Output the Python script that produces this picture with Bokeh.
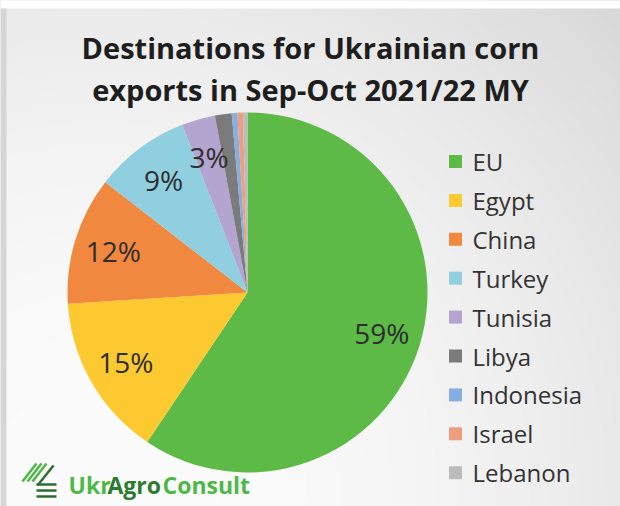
import math
import numpy as np
from bokeh.plotting import figure
from bokeh.models import Range1d, ColumnDataSource
from bokeh.core.properties import value
from bokeh.embed import file_html
from bokeh.resources import INLINE

# ---- data ----
countries = ["EU", "Egypt", "China", "Turkey", "Tunisia", "Libya", "Indonesia", "Israel", "Lebanon"]
shares = [59.4, 14.6, 11.5, 8.6, 3.0, 1.5, 0.5, 0.5, 0.4]
pct_labels = ["59%", "15%", "12%", "9%", "3%", "", "", "", ""]
colors = ["#5dba47", "#fcc931", "#f0883f", "#8fcfdf", "#b3a5cf", "#7b7b7b", "#86aee0", "#ee9f82", "#bcbcbc"]
title_lines = ["Destinations for Ukrainian corn", "exports in Sep-Oct 2021/22 MY"]

W, H = 620, 506
def sx(X):
    return X
def sy(Y):
    return H - Y

FONT = "Open Sans"
p = figure(width=W, height=H, output_backend="svg", toolbar_location=None,
           x_range=Range1d(0, W), y_range=Range1d(0, H), min_border=0)
p.axis.visible = False
p.grid.visible = False
p.outline_line_color = None
p.background_fill_color = "#e7e7e7"
p.border_fill_color = "#e7e7e7"

# ---- background gradient (decoration) ----
nx, ny = W // 2, H // 2
gx = (np.arange(nx) + 0.5) * W / nx
gy = (np.arange(ny) + 0.5) * H / ny          # screen y from top
GX, GY = np.meshgrid(gx, gy)
d2 = (GX - 100.0) ** 2 + (GY - 500.0) ** 2
v = np.clip(252 - 7e-5 * d2, 205, 252).astype(np.uint32)
img = (255 << 24) | (v << 16) | (v << 8) | v
img = img[::-1, :].astype(np.uint32)          # bokeh rows go bottom-up
p.image_rgba(image=[img], x=0, y=0, dw=W, dh=H)
p.quad(left=0, right=W, bottom=sy(8), top=H, fill_color="white", line_color=None)
p.quad(left=0, right=6, bottom=0, top=sy(8), fill_color="#d6d6d6", line_color=None)

# ---- pie ----
cx, cy, R = sx(247), sy(292), 180
total = sum(shares)
starts, ends, mids = [], [], []
acc = 0.0
for s in shares:
    a0 = math.pi / 2 - 2 * math.pi * acc / total
    acc += s
    a1 = math.pi / 2 - 2 * math.pi * acc / total
    starts.append(a0); ends.append(a1); mids.append((a0 + a1) / 2)

src = ColumnDataSource(dict(start=starts, end=ends, color=colors, name=countries))
p.wedge(x=cx, y=cy, radius=R, start_angle="start", end_angle="end", direction="clock",
        fill_color="color", line_color=None, source=src)

lr = 0.78 * R
lab = ColumnDataSource(dict(x=[cx + lr * math.cos(m) for m in mids],
                            y=[cy + lr * math.sin(m) for m in mids],
                            t=pct_labels))
p.text(x="x", y="y", text="t", source=lab, text_align="center", text_baseline="middle",
       text_font=value(FONT), text_font_size="28px", text_color="#2e2e2e")

# ---- title ----
for i, line in enumerate(title_lines):
    p.text(x=[sx(310)], y=[sy(47 + 42 * i)], text=[line], text_align="center",
           text_baseline="middle", text_font=value(FONT), text_font_style="bold",
           text_font_size="29px", text_color="#1e1e1e")

# ---- legend ----
ly0, dy = 161, 38.9
leg = ColumnDataSource(dict(
    x=[sx(455)] * len(countries),
    y=[sy(ly0 + dy * i) for i in range(len(countries))],
    tx=[sx(472)] * len(countries),
    name=countries, color=colors))
p.rect(x="x", y="y", width=13, height=13, fill_color="color", line_color=None, source=leg)
p.text(x="tx", y="y", text="name", source=leg, text_align="left", text_baseline="middle",
       text_font=value(FONT), text_font_size="24px", text_color="#333333")

# ---- logo ----
for dx in (0, 5, 10):
    p.line(x=[sx(22 + dx), sx(36 + dx)], y=[sy(481), sy(463)], line_color="#4cb748", line_width=2.5)
p.line(x=[sx(37), sx(53)], y=[sy(485), sy(465)], line_color="#2b6e2f", line_width=2.5)
for yy in (484, 490, 496):
    p.line(x=[sx(36), sx(56)], y=[sy(yy), sy(yy)], line_color="#2b6e2f", line_width=2.5)
logo_parts = [("Ukr", 68, "#4db848"), ("Agro", 107, "#2d7a31"), ("Consult", 162, "#4db848")]
for t, xx, c in logo_parts:
    p.text(x=[sx(xx)], y=[sy(484)], text=[t], text_align="left", text_baseline="middle",
           text_font=value(FONT), text_font_style="bold", text_font_size="23px", text_color=c)

open("out.html", "w").write(file_html(p, INLINE))
